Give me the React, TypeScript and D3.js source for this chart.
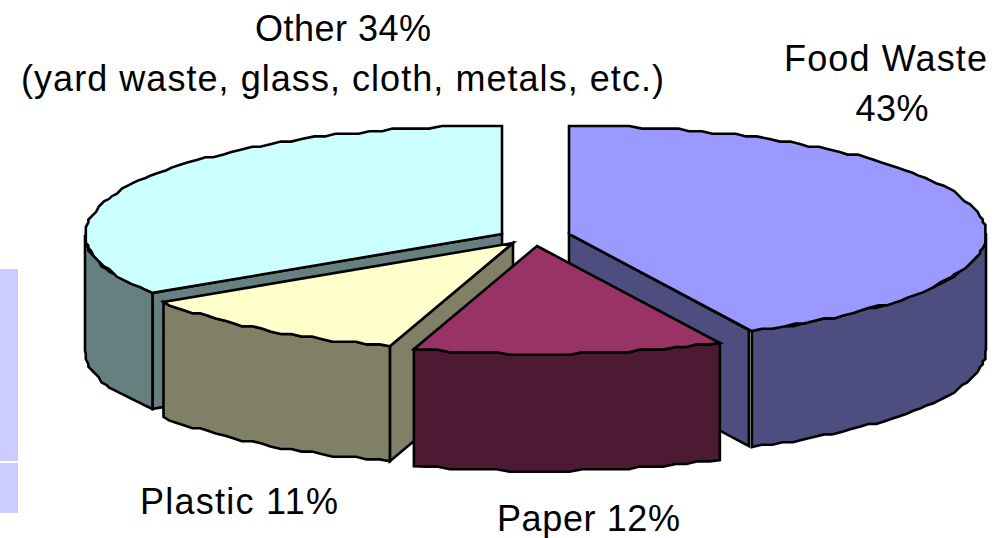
import React from "react";
import * as d3 from "d3";

// Municipal solid waste composition, in percent
const categories = ["Food Waste", "Paper", "Plastic", "Other"];
const shares = [43, 12, 11, 34];
const topColors = ["#9999ff", "#993366", "#ffffcc", "#ccffff"];
const sideColors = ["#4d4d80", "#4d1a33", "#808066", "#668080"];

// Exploded-slice offsets from the pie centre and extruded height of each slice, px
const offsetX = [34, 2, -22, -33];
const offsetY = [-4, 8, 5, -4];
const depths = [116, 117, 115, 116];

const WIDTH = 1001;
const HEIGHT = 538;
const CX = 535;
const CY = 238;
const RX = 417;
const RY = 108;
const STROKE = 2.6;
const DEG = Math.PI / 180;
const TAU = Math.PI * 2;
const VIEW_SKEW = 0.85 * DEG; // slight camera twist, grows toward the front of the pie
const GRID = 2.6; // coarse vertex grid that gives the outline its faceted look
const RIM_STEP = 1.7 * DEG;
const TOP_EDGE = CY - RY - 4; // the vertex grid is aligned to the back edge of the disc

const xUnit = d3.scaleLinear().domain([-1, 1]).range([CX - RX, CX + RX]);
const yUnit = d3.scaleLinear().domain([-1, 1]).range([CY - RY, CY + RY]);

type Pt = [number, number];

// Project a pie angle (clockwise from 12 o'clock) onto the tilted disc.
function project(theta: number, dx: number, dy: number): Pt {
  const t = theta - (VIEW_SKEW * (1 - Math.cos(theta))) / 2;
  return [xUnit(Math.sin(t)) + dx, yUnit(-Math.cos(t)) + dy];
}

function snapX(v: number) {
  return Math.round(v / GRID) * GRID;
}

function snapY(v: number) {
  return Math.round((v - TOP_EDGE) / GRID) * GRID + TOP_EDGE;
}

function rimPoints(a: number, b: number, dx: number, dy: number): Pt[] {
  const n = Math.max(1, Math.ceil((b - a) / RIM_STEP));
  return d3.range(n + 1).map((i) => {
    const p = project(a + ((b - a) * i) / n, dx, dy);
    return i === 0 || i === n ? p : ([snapX(p[0]), snapY(p[1])] as Pt);
  });
}

const pathOf = d3.line<Pt>().x((d) => d[0]).y((d) => d[1]);
const closed = (pts: Pt[]) => pathOf(pts) + "Z";
const lowered = (pts: Pt[], h: number): Pt[] => pts.map(([x, y]) => [x, y + h] as Pt);

const arcs = d3.pie<number>().sort(null).startAngle(0).endAngle(TAU)(shares);

// Back-to-front paint order
const paintOrder = [3, 0, 2, 1];

function Slice({ index }: { index: number }) {
  const arc = arcs[index];
  const dx = offsetX[index];
  const dy = offsetY[index];
  const h = depths[index];
  const apex: Pt = [xUnit(0) + dx, yUnit(0) + dy];
  const rim = rimPoints(arc.startAngle, arc.endAngle, dx, dy);
  const common = { stroke: "#000", strokeWidth: STROKE, strokeLinejoin: "miter" as const };

  // Cut faces that turn toward the viewer
  let wall: Pt[] | null = null;
  if (index === 0) {
    const end = project(arc.endAngle, dx, dy);
    const inner: Pt = [end[0] - 3, end[1] - 1];
    wall = [apex, inner, [inner[0], inner[1] + h], [apex[0], apex[1] + h]];
  } else if (index === 2 || index === 3) {
    const start = project(arc.startAngle, dx, dy);
    wall = [apex, start, [start[0], start[1] + h], [apex[0], apex[1] + h]];
  }

  // Outer rim, only the part on the near half of the disc
  const a = Math.max(arc.startAngle, Math.PI / 2);
  const b = Math.min(arc.endAngle, (Math.PI * 3) / 2);
  const side = a < b ? rimPoints(a, b, dx, dy) : null;

  return (
    <g>
      {wall && <path d={closed(wall)} fill={sideColors[index]} {...common} />}
      {side && (
        <path
          d={closed([...side, ...lowered(side, h).reverse()])}
          fill={sideColors[index]}
          {...common}
        />
      )}
      <path d={closed([apex, ...rim])} fill={topColors[index]} {...common} />
    </g>
  );
}

const labelStyle: React.CSSProperties = {
  fontFamily: '"Liberation Sans", Arial, sans-serif',
  fontSize: 36,
  fill: "#000",
};

export default function App() {
  return (
    <svg
      width={WIDTH}
      height={HEIGHT}
      viewBox={`0 0 ${WIDTH} ${HEIGHT}`}
      style={{ position: "absolute", left: 0, top: 0, display: "block", background: "#fff" }}
    >
      <rect x={0} y={269} width={18} height={192} fill="#ccccff" />
      <rect x={0} y={463} width={18} height={50} fill="#ccccff" />
      {paintOrder.map((i) => (
        <Slice key={categories[i]} index={i} />
      ))}
      <g style={labelStyle} textAnchor="middle">
        <text x={343} y={41} textLength={176}>{`${categories[3]} ${shares[3]}%`}</text>
        <text x={342.5} y={91} textLength={643}>(yard waste, glass, cloth, metals, etc.)</text>
        <text x={885.5} y={71} textLength={203}>{categories[0]}</text>
        <text x={892} y={121} textLength={73}>{`${shares[0]}%`}</text>
        <text x={239} y={514} textLength={198}>{`${categories[2]} ${shares[2]}%`}</text>
        <text x={588.5} y={531} textLength={183}>{`${categories[1]} ${shares[1]}%`}</text>
      </g>
    </svg>
  );
}
